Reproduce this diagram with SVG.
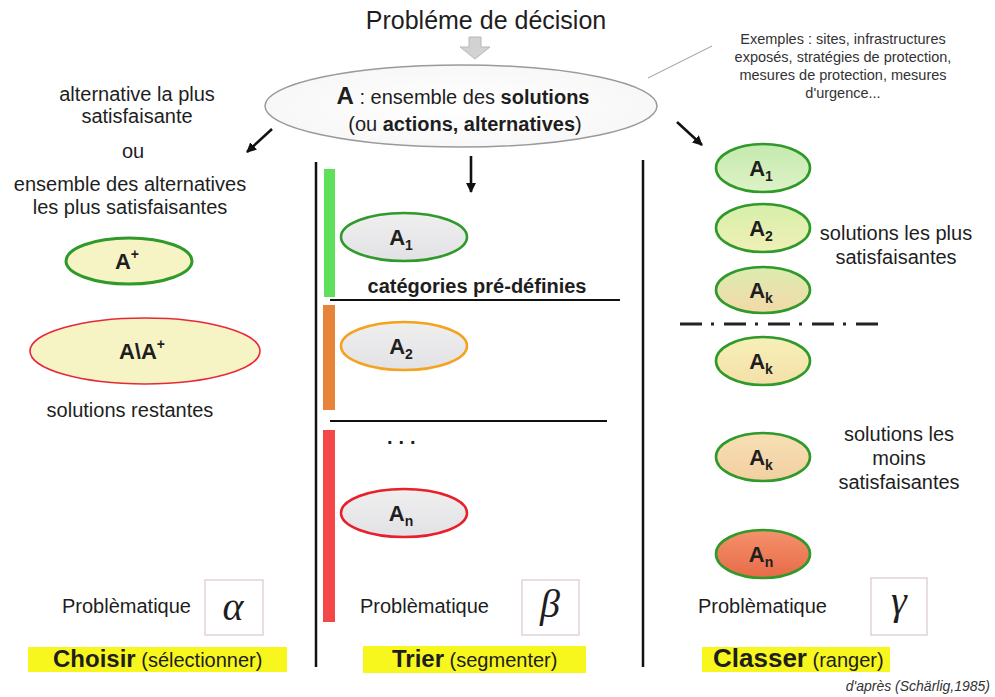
<svg xmlns="http://www.w3.org/2000/svg" width="995" height="697" viewBox="0 0 995 697">
<style>
text{font-family:"Liberation Sans",Arial,sans-serif;fill:#1e1e1e}
.t20{font-size:20px}
.t14{font-size:14.5px;fill:#333}
.b{font-weight:bold}
.ctr{text-anchor:middle}
.lab{font-size:22px;font-weight:bold;text-anchor:middle}
.sub{font-size:14px}
.greek{font-family:"Liberation Serif","DejaVu Serif",serif;font-style:italic;font-size:40px;text-anchor:middle}
.box{fill:#fff;stroke:#d9c9c9;stroke-width:1.2}
.hl{fill:#f7f71e}
.con{stroke:#111;stroke-width:2.6;fill:none}
.sep{stroke:#111;stroke-width:2;fill:none}
</style>
<defs>
<marker id="ah" markerWidth="10" markerHeight="10" refX="9" refY="5" orient="auto" markerUnits="userSpaceOnUse">
<path d="M0,0 L10,5 L0,10 z" fill="#111"/>
</marker>
<radialGradient id="gMain" cx="50%" cy="50%" r="60%">
<stop offset="0" stop-color="#ffffff"/><stop offset="1" stop-color="#f6f6f6"/>
</radialGradient>
<linearGradient id="gGray" x1="0" y1="0" x2="0" y2="1">
<stop offset="0" stop-color="#efefef"/><stop offset="1" stop-color="#e2e2e6"/>
</linearGradient>
<linearGradient id="gR1" x1="0" y1="0" x2="0" y2="1">
<stop offset="0" stop-color="#c4eaae"/><stop offset="1" stop-color="#def2c6"/>
</linearGradient>
<linearGradient id="gR2" x1="0" y1="0" x2="0" y2="1">
<stop offset="0" stop-color="#d6efaa"/><stop offset="1" stop-color="#f0f0b6"/>
</linearGradient>
<linearGradient id="gR3" x1="0" y1="0" x2="0" y2="1">
<stop offset="0" stop-color="#dcecb0"/><stop offset="1" stop-color="#f3d9a8"/>
</linearGradient>
<linearGradient id="gR4" x1="0" y1="0" x2="0" y2="1">
<stop offset="0" stop-color="#f7f0b8"/><stop offset="1" stop-color="#f3e0a8"/>
</linearGradient>
<linearGradient id="gR5" x1="0" y1="0" x2="0" y2="1">
<stop offset="0" stop-color="#f7e0b4"/><stop offset="1" stop-color="#f2cfa2"/>
</linearGradient>
<linearGradient id="gR6" x1="0" y1="0" x2="0" y2="1">
<stop offset="0" stop-color="#f4926c"/><stop offset="1" stop-color="#e86a48"/>
</linearGradient>
</defs>

<rect width="995" height="697" fill="#ffffff"/>

<g id="title">
<text class="ctr" x="486" y="29" style="font-size:25px">Probléme de décision</text>
<polygon points="469,37 481,37 481,47 490,47 475,59 460,47 469,47" fill="#d2d2d2" stroke="#b8b8b8" stroke-width="1"/>
</g>

<g id="node-A">
<ellipse cx="461" cy="106" rx="196" ry="41" fill="url(#gMain)" stroke="#9a9a9a" stroke-width="1.5"/>
<text class="t20" x="463" y="104" text-anchor="middle"><tspan class="b" style="font-size:24px">A</tspan> : ensemble des <tspan class="b">solutions</tspan></text>
<text class="t20" x="465" y="131" text-anchor="middle">(ou <tspan class="b">actions, alternatives</tspan>)</text>
</g>

<g id="examples">
<line x1="648" y1="78" x2="712" y2="46" stroke="#9a9a9a" stroke-width="1"/>
<text class="t14 ctr" x="843" y="44">Exemples : sites, infrastructures</text>
<text class="t14 ctr" x="843" y="62">exposés,  stratégies de protection,</text>
<text class="t14 ctr" x="843" y="80">mesures de protection, mesures</text>
<text class="t14 ctr" x="843" y="98">d'urgence...</text>
</g>

<g id="connectors">
<line class="con" x1="272" y1="129" x2="247" y2="152" marker-end="url(#ah)"/>
<line class="con" x1="471" y1="156" x2="471" y2="192" marker-end="url(#ah)"/>
<line class="con" x1="677" y1="122" x2="702" y2="145" marker-end="url(#ah)"/>
<line class="sep" x1="316" y1="162" x2="316" y2="667" style="stroke-width:2.5"/>
<line class="sep" x1="643" y1="160" x2="643" y2="667" style="stroke-width:2.5"/>
<line class="sep" x1="330" y1="300" x2="620" y2="300"/>
<line class="sep" x1="330" y1="421" x2="607" y2="421"/>
<line x1="680" y1="324" x2="882" y2="324" stroke="#222" stroke-width="3" stroke-dasharray="22 9 3 10"/>
</g>

<g id="col-alpha">
<text class="t20 ctr" x="137" y="101">alternative la plus</text>
<text class="t20 ctr" x="137" y="123">satisfaisante</text>
<text class="t20 ctr" x="133" y="158">ou</text>
<text class="t20 ctr" x="130" y="191">ensemble des alternatives</text>
<text class="t20 ctr" x="130" y="214">les plus satisfaisantes</text>
<g id="node-Aplus">
<ellipse cx="129" cy="261" rx="63" ry="23" fill="#f6f3c4" stroke="#2f9a2a" stroke-width="3"/>
<text class="lab" x="127" y="269">A<tspan class="sub" dy="-10">+</tspan></text>
</g>
<g id="node-AminusAplus">
<ellipse cx="145" cy="351" rx="115" ry="33" fill="#f6f3c4" stroke="#e8283a" stroke-width="1.6"/>
<text class="lab" x="142" y="359">A\A<tspan class="sub" dy="-10">+</tspan></text>
</g>
<text class="t20 ctr" x="130" y="417">solutions restantes</text>
<text class="t20" x="62" y="613">Problèmatique</text>
<rect class="box" x="205" y="580" width="58" height="55"/>
<text class="greek" x="233" y="620">α</text>
<rect class="hl" x="28" y="647" width="259" height="25"/>
<text x="53" y="667"><tspan class="b" style="font-size:24px">Choisir</tspan><tspan style="font-size:20px"> (sélectionner)</tspan></text>
</g>

<g id="col-beta">
<rect x="324" y="169" width="11" height="128" fill="#5ee05a"/>
<rect x="323" y="305" width="12" height="105" fill="#e8843a"/>
<rect x="323" y="430" width="12" height="192" fill="#f44848"/>
<g id="node-b-A1">
<ellipse cx="404" cy="237" rx="63" ry="24" fill="url(#gGray)" stroke="#2f9a2a" stroke-width="2.6"/>
<text class="lab" x="401" y="245">A<tspan class="sub" dy="5">1</tspan></text>
</g>
<text class="t20 b ctr" x="477" y="293">catégories pré-définies</text>
<g id="node-b-A2">
<ellipse cx="404" cy="346" rx="63" ry="24" fill="url(#gGray)" stroke="#f5a21e" stroke-width="2.6"/>
<text class="lab" x="401" y="354">A<tspan class="sub" dy="5">2</tspan></text>
</g>
<text class="b" x="387" y="444" style="font-size:20px;letter-spacing:6px">...</text>
<g id="node-b-An">
<ellipse cx="404" cy="513" rx="63" ry="24" fill="url(#gGray)" stroke="#e8202a" stroke-width="2.6"/>
<text class="lab" x="401" y="521">A<tspan class="sub" dy="5">n</tspan></text>
</g>
<text class="t20" x="360" y="613">Problèmatique</text>
<rect class="box" x="522" y="580" width="57" height="55"/>
<text class="greek" x="550" y="617">β</text>
<rect class="hl" x="363" y="646" width="223" height="27"/>
<text x="392" y="667"><tspan class="b" style="font-size:24px">Trier</tspan><tspan style="font-size:20px"> (segmenter)</tspan></text>
</g>

<g id="col-gamma">
<g id="node-g-A1">
<ellipse cx="763" cy="168" rx="47" ry="24" fill="url(#gR1)" stroke="#2f9a2a" stroke-width="2.6"/>
<text class="lab" x="761" y="176">A<tspan class="sub" dy="5">1</tspan></text>
</g>
<g id="node-g-A2">
<ellipse cx="763" cy="228" rx="47" ry="24" fill="url(#gR2)" stroke="#2f9a2a" stroke-width="2.6"/>
<text class="lab" x="761" y="236">A<tspan class="sub" dy="5">2</tspan></text>
</g>
<g id="node-g-Ak1">
<ellipse cx="763" cy="290" rx="47" ry="23" fill="url(#gR3)" stroke="#2f9a2a" stroke-width="2.6"/>
<text class="lab" x="761" y="298">A<tspan class="sub" dy="5">k</tspan></text>
</g>
<text class="t20 ctr" x="896" y="240">solutions les plus</text>
<text class="t20 ctr" x="896" y="264">satisfaisantes</text>
<g id="node-g-Ak2">
<ellipse cx="763" cy="361" rx="47" ry="24" fill="url(#gR4)" stroke="#2f9a2a" stroke-width="2.6"/>
<text class="lab" x="761" y="369">A<tspan class="sub" dy="5">k</tspan></text>
</g>
<g id="node-g-Ak3">
<ellipse cx="763" cy="457" rx="47" ry="24" fill="url(#gR5)" stroke="#2f9a2a" stroke-width="2.6"/>
<text class="lab" x="761" y="465">A<tspan class="sub" dy="5">k</tspan></text>
</g>
<text class="t20 ctr" x="899" y="441">solutions les</text>
<text class="t20 ctr" x="899" y="465">moins</text>
<text class="t20 ctr" x="899" y="489">satisfaisantes</text>
<g id="node-g-An">
<ellipse cx="763" cy="554" rx="47" ry="24" fill="url(#gR6)" stroke="#2f9a2a" stroke-width="2.6"/>
<text class="lab" x="761" y="562">A<tspan class="sub" dy="5">n</tspan></text>
</g>
<text class="t20" x="698" y="613">Problèmatique</text>
<rect class="box" x="871" y="578" width="56" height="57"/>
<text class="greek" x="899" y="614">γ</text>
<rect class="hl" x="702" y="647" width="188" height="25"/>
<text x="713" y="667"><tspan class="b" style="font-size:26px">Classer</tspan><tspan style="font-size:20px"> (ranger)</tspan></text>
</g>

<text x="990" y="691" text-anchor="end" style="font-size:14px;font-style:italic;fill:#333">d'après (Schärlig,1985)</text>
</svg>
